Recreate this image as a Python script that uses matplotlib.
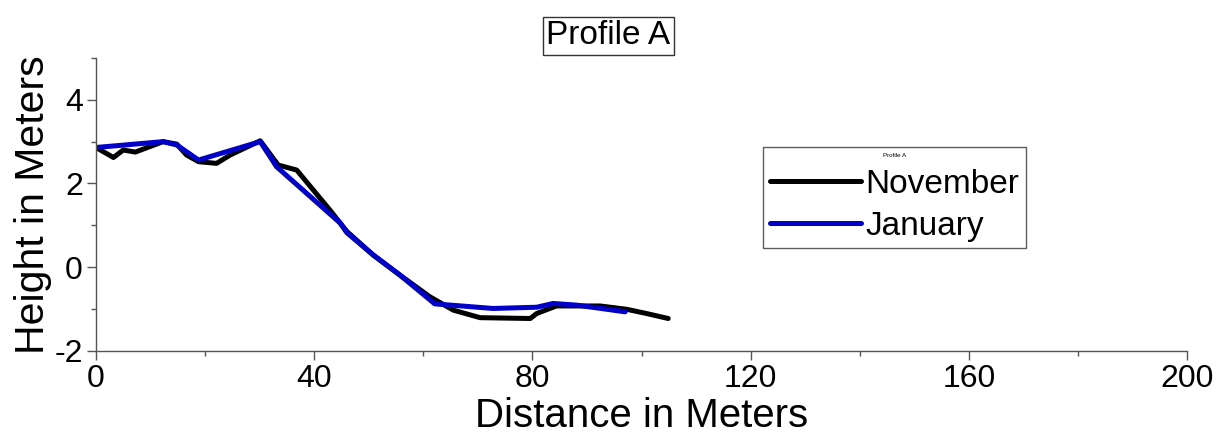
import matplotlib
matplotlib.use('Agg')
import matplotlib.pyplot as plt
from matplotlib.ticker import MultipleLocator

plt.rcParams['font.family'] = ['Liberation Sans', 'DejaVu Sans']
plt.rcParams['axes.unicode_minus'] = False

# profile A survey data (distance, height)
nov_x = [0, 3.2, 5.0, 7.2, 12.3, 14.8, 16.6, 18.8, 22.1, 24.6, 30.1, 33.4, 36.8,
         42.9, 46.0, 50.8, 55.7, 61.2, 65.5, 70.4, 79.6, 80.8, 84.4, 92.4, 97.3,
         100.9, 104.9]
nov_y = [2.86, 2.62, 2.80, 2.75, 3.00, 2.94, 2.68, 2.52, 2.48, 2.68, 3.02, 2.44, 2.32,
         1.36, 0.85, 0.29, -0.19, -0.71, -1.03, -1.21, -1.23, -1.11, -0.93, -0.93, -1.01,
         -1.11, -1.23]
jan_x = [0, 12.3, 14.8, 18.8, 30.1, 33.1, 44.7, 46.0, 50.8, 55.7, 62.1, 72.8, 80.8,
         83.8, 88.1, 97.0]
jan_y = [2.86, 3.00, 2.92, 2.56, 3.00, 2.40, 1.06, 0.82, 0.29, -0.19, -0.88, -0.99, -0.96,
         -0.87, -0.91, -1.07]

fig = plt.figure(figsize=(12.23, 4.41), dpi=100)
ax = fig.add_axes([96/1223, 1-350.7/441, (1187-96)/1223, (350.7-58)/441])

ax.plot(nov_x, nov_y, color='black', lw=3.6, solid_capstyle='round',
        solid_joinstyle='round', label='November')
ax.plot(jan_x, jan_y, color='#0000c8', lw=3.6, solid_capstyle='round',
        solid_joinstyle='round', label='January')

ax.set_xlim(0, 200)
ax.set_ylim(-2, 5)
ax.xaxis.set_major_locator(MultipleLocator(40))
ax.xaxis.set_minor_locator(MultipleLocator(20))
ax.yaxis.set_major_locator(MultipleLocator(2))
ax.yaxis.set_minor_locator(MultipleLocator(1))

for s in ['top', 'right']:
    ax.spines[s].set_visible(False)
for s in ['left', 'bottom']:
    ax.spines[s].set_color('#555555')
    ax.spines[s].set_linewidth(1.0)

ax.tick_params(which='major', direction='out', length=6.5, width=1.0,
               color='#555555', labelsize=23, pad=3)
ax.tick_params(which='minor', direction='out', length=3.5, width=1.0, color='#555555')

ax.set_xlabel('Distance in Meters', fontsize=29, labelpad=2)
ax.set_ylabel('Height in Meters', fontsize=29.5, labelpad=2)

fig.text(0.4975, 1-36/441, 'Profile A', fontsize=24, ha='center', va='center',
         bbox=dict(facecolor='white', edgecolor='#333333', linewidth=1.0, pad=2.5))

leg = ax.legend(loc='upper left', bbox_to_anchor=(763/1223, 1-146.7/441),
                bbox_transform=fig.transFigure, fontsize=24, title='Profile A',
                title_fontsize=4.5, handlelength=2.75, handletextpad=0.12,
                borderaxespad=0, borderpad=0.2, labelspacing=0.32, frameon=True,
                fancybox=False)
leg.get_frame().set_edgecolor('#333333')
leg.get_frame().set_linewidth(1.0)

fig.savefig('out.png', dpi=100)
